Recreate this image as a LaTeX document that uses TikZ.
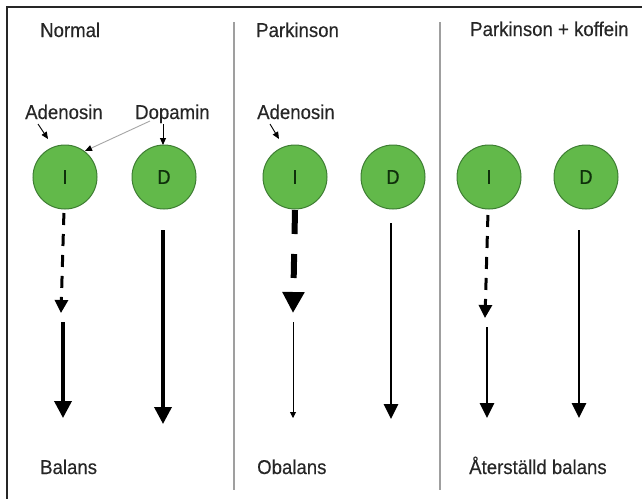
\documentclass[tikz,border=0pt]{standalone}
\usepackage{fontspec}
\setmainfont{Liberation Sans}[FakeStretch=0.93,FakeBold=0.3]
\newfontfamily\recfont{Liberation Sans}[FakeStretch=0.9,FakeBold=1]
\usetikzlibrary{arrows.meta}
\definecolor{recfill}{HTML}{62B94A}
\definecolor{recedge}{HTML}{3E7E33}
\definecolor{recText}{HTML}{0F300B}
\definecolor{ink}{HTML}{262626}
\begin{document}
\begin{tikzpicture}[x=1pt,y=-1pt,
  receptor/.style={circle,draw=recedge,line width=1pt,fill=recfill,minimum size=64pt,inner sep=0pt,
    text=recText,font=\recfont\fontsize{20}{20}\selectfont},
  lbl/.style={anchor=base west,inner sep=0pt,text=ink,font=\fontsize{20}{20}\selectfont},
  sep/.style={draw=gray!75,line width=1.4pt},
  frame/.style={draw=ink,line width=1.4pt},
  pointer/.style={draw=black,line width=0.9pt,-{Triangle[length=7pt,width=6pt]}},
  greypointer/.style={draw=gray!70,line width=0.9pt,-{Triangle[length=7pt,width=6pt,color=black]}},
  weakflow/.style={line width=3pt,dash pattern=on 12pt off 9pt,dash phase=18pt,-{Triangle[length=13pt,width=13pt]}},
  strongflow/.style={line width=3.5pt,-{Triangle[length=17pt,width=17pt]}},
  midflow/.style={line width=2.8pt,-{Triangle[length=15pt,width=14pt]}}
]
\useasboundingbox (0,0) rectangle (642,499);
\fill[white] (0,0) rectangle (642,499);

% outer frame (top and left edges)
\draw[frame] (642,7) -- (7,7) -- (7,499);

% column separators
\draw[sep] (234,22) -- (234,490);
\draw[sep] (440,22) -- (440,490);

% headings
\node[lbl] (hN) at (40,37) {Normal};
\node[lbl] (hP) at (256,37) {Parkinson};
\node[lbl] (hK) at (470,36) {Parkinson + koffein};

% ligand labels
\node[lbl] (adN) at (25,119) {Adenosin};
\node[lbl] (doN) at (135,119) {Dopamin};
\node[lbl] (adP) at (257,119) {Adenosin};

% receptors
\node[receptor] (nI) at (65,177) {I};
\node[receptor] (nD) at (164,177) {D};
\node[receptor] (pI) at (295,177) {I};
\node[receptor] (pD) at (393,177) {D};
\node[receptor] (kI) at (489,177) {I};
\node[receptor] (kD) at (586,177) {D};

% ligand pointers
\coordinate (adNs) at (38,124);
\coordinate (adNe) at (48,139);
\coordinate (doNs) at (150,121);
\coordinate (doNe) at (85,151);
\coordinate (doNd) at (163,124);
\coordinate (doNde) at (163,145);
\coordinate (adPs) at (270,124);
\coordinate (adPe) at (279,139);
\draw[pointer] (adNs) -- (adNe);
\draw[greypointer] (doNs) -- (doNe);
\draw[pointer] (doNd) -- (doNde);
\draw[pointer] (adPs) -- (adPe);

% Normal column
\coordinate (nIa) at (64,210);
\coordinate (nIb) at (61,313);
\coordinate (nIc) at (63,322);
\coordinate (nId) at (63,418);
\coordinate (nDa) at (163,230);
\coordinate (nDb) at (163,424);
\draw[weakflow] (nIa) -- (nIb);
\draw[strongflow] (nIc) -- (nId);
\draw[strongflow] (nDa) -- (nDb);

% Parkinson column
\coordinate (pIa) at (295,210);
\coordinate (pIb) at (293,313);
\coordinate (pIc) at (293,322);
\coordinate (pId) at (293,418);
\coordinate (pDa) at (391,223);
\coordinate (pDb) at (391,419);
\draw[line width=6pt,dash pattern=on 24pt off 20pt,-{Triangle[length=21pt,width=21pt]}] (pIa) -- (pIb);
\draw[line width=0.9pt,-{Triangle[length=6pt,width=6pt]}] (pIc) -- (pId);
\draw[midflow] (pDa) -- (pDb);

% Parkinson + koffein column
\coordinate (kIa) at (488,212);
\coordinate (kIb) at (485,318);
\coordinate (kIc) at (487,327);
\coordinate (kId) at (487,418);
\coordinate (kDa) at (579,230);
\coordinate (kDb) at (579,418);
\draw[weakflow] (kIa) -- (kIb);
\draw[midflow] (kIc) -- (kId);
\draw[midflow] (kDa) -- (kDb);

% outcomes
\node[lbl] (oN) at (40,474) {Balans};
\node[lbl] (oP) at (257,474) {Obalans};
\node[lbl] (oK) at (469,474) {Återställd balans};
\end{tikzpicture}
\end{document}
